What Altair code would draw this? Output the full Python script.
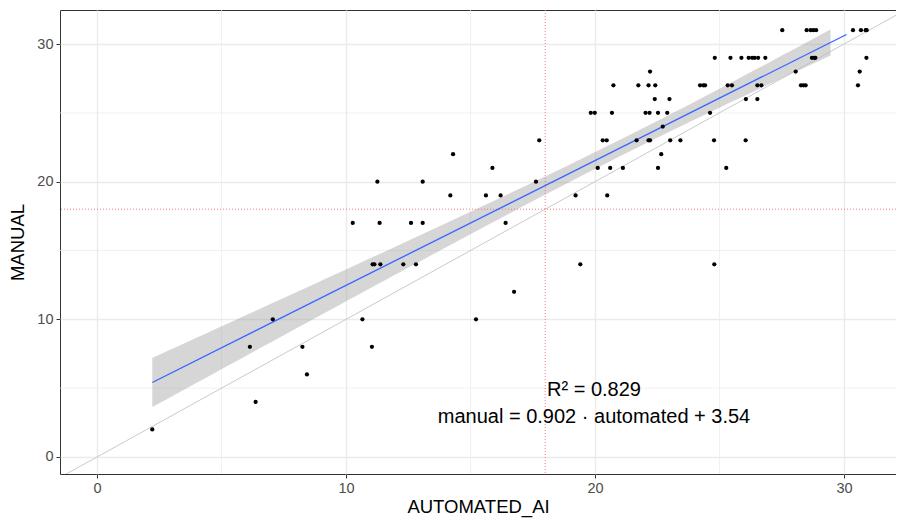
import altair as alt
import numpy as np
import pandas as pd

# ---- data ----
automated = [
    2.22, 6.37, 8.43,
    6.14, 8.25, 11.04,
    7.06, 10.66, 15.22,
    16.75,
    11.07, 11.14, 11.38, 12.30, 12.81, 19.41, 24.79,
    10.27, 11.35, 12.61, 13.08, 16.41,
    14.19, 15.62, 16.21, 19.22, 20.49,
    11.26, 13.08, 17.63,
    15.88, 20.11, 20.61, 21.12, 22.53, 25.27,
    14.30, 22.66,
    17.76, 20.31, 20.47, 21.67, 22.15, 22.21, 23.02, 23.43, 24.78, 26.05,
    22.72,
    19.83, 19.99, 20.68, 22.03, 22.19, 22.53, 22.90, 24.62,
    22.40, 22.99, 26.06, 26.52,
    20.74, 21.74, 22.15, 22.42, 24.22, 24.35, 24.42, 25.33, 25.50, 26.52, 26.68, 28.27, 28.37, 28.46, 30.56,
    22.21, 28.06, 30.63,
    24.81, 25.44, 25.88, 26.17, 26.31, 26.41, 26.55, 26.84, 28.71, 28.80, 28.85, 30.90,
    27.52, 28.50, 28.66, 28.77, 28.88, 30.36, 30.68, 30.87, 30.91,
]
manual = (
    [2, 4, 6]
    + [8] * 3
    + [10] * 3
    + [12]
    + [14] * 7
    + [17] * 5
    + [19] * 5
    + [20] * 3
    + [21] * 6
    + [22] * 2
    + [23] * 10
    + [24]
    + [25] * 8
    + [26] * 4
    + [27] * 15
    + [28] * 3
    + [29] * 12
    + [31] * 9
)

x_ticks = [0, 10, 20, 30]
y_ticks = [0, 10, 20, 30]
x_minor = [5, 15, 25]
y_minor = [5, 15, 25]
x_domain = [-1.486, 32.088]
y_domain = [-1.235, 32.47]
cut_automated = [18]
cut_manual = [18]
line_range = [2.22, 30.1]
band_range = [2.22, 29.46]
identity_range = [-3, 35]
label_r2 = "R² = 0.829"
label_eq = "manual = 0.902 · automated + 3.54"
label_pos_x = [19.96, 19.96]
label_pos_y = [4.43, 2.49]

# ---- tables ----
pts = pd.DataFrame({"automated": automated, "manual": manual})

xa = np.array(automated, dtype=float)
ya = np.array(manual, dtype=float)
n = len(xa)
slope, intercept = np.polyfit(xa, ya, 1)
resid = ya - (slope * xa + intercept)
s = np.sqrt(np.sum(resid ** 2) / (n - 2))
xm = xa.mean()
sxx = np.sum((xa - xm) ** 2)
tval = 1.986

bx = np.linspace(band_range[0], band_range[1], 80)
se = s * np.sqrt(1.0 / n + (bx - xm) ** 2 / sxx)
band = pd.DataFrame({"x": bx, "lo": slope * bx + intercept - tval * se,
                     "hi": slope * bx + intercept + tval * se})
lx = np.array(line_range)
fit = pd.DataFrame({"x": lx, "y": slope * lx + intercept})
ident = pd.DataFrame({"x": identity_range, "y": identity_range})
labels = pd.DataFrame({"x": label_pos_x, "y": label_pos_y, "t": [label_r2, label_eq]})

xs = alt.Scale(domain=x_domain, nice=False, zero=False)
ys = alt.Scale(domain=y_domain, nice=False, zero=False)

X = lambda f: alt.X(f, type="quantitative", scale=xs,
                    axis=alt.Axis(values=x_ticks, title="AUTOMATED_AI"))
Y = lambda f: alt.Y(f, type="quantitative", scale=ys,
                    axis=alt.Axis(values=y_ticks, title="MANUAL"))

minor_v = alt.Chart(pd.DataFrame({"v": x_minor})).mark_rule(
    color="#EBEBEB", strokeWidth=0.7).encode(x=X("v"))
minor_h = alt.Chart(pd.DataFrame({"v": y_minor})).mark_rule(
    color="#EBEBEB", strokeWidth=0.7).encode(y=Y("v"))

band_l = alt.Chart(band).mark_area(color="#999999", opacity=0.4).encode(
    x=X("x"), y=Y("lo"), y2="hi")
ident_l = alt.Chart(ident).mark_line(color="#BDBDBD", strokeWidth=0.8, clip=True).encode(
    x=X("x"), y=Y("y"))
vrule = alt.Chart(pd.DataFrame({"v": cut_automated})).mark_rule(
    color="#F26B6B", strokeWidth=0.9, strokeDash=[1, 2]).encode(x=X("v"))
hrule = alt.Chart(pd.DataFrame({"v": cut_manual})).mark_rule(
    color="#F26B6B", strokeWidth=0.9, strokeDash=[1, 2]).encode(y=Y("v"))
fit_l = alt.Chart(fit).mark_line(color="#3366FF", strokeWidth=1.3).encode(
    x=X("x"), y=Y("y"))
pts_l = alt.Chart(pts).mark_circle(color="black", size=18, opacity=1).encode(
    x=X("automated"), y=Y("manual"))
txt = alt.Chart(labels).mark_text(
    font="Liberation Sans", fontSize=20, align="center", baseline="alphabetic",
    color="black").encode(x=X("x"), y=Y("y"), text="t:N")

chart = alt.layer(
    minor_v, minor_h, band_l, ident_l, vrule, hrule, fit_l, pts_l, txt
).properties(
    width=836, height=464,
    autosize=alt.AutoSizeParams(type="none"),
    padding={"left": 52, "top": 2, "right": 0, "bottom": 44},
).configure_view(
    stroke="#333333", strokeWidth=1
).configure_axis(
    domain=False,
    grid=True, gridColor="#EBEBEB", gridWidth=1.4,
    ticks=True, tickColor="#333333", tickSize=4, tickWidth=1,
    labelFont="Liberation Sans", labelFontSize=14.5, labelColor="#4D4D4D",
    labelPadding=3,
    titleFont="Liberation Sans", titleFontSize=18.5, titleFontWeight="normal",
    titleColor="black",
).configure_axisX(titlePadding=3).configure_axisY(titlePadding=9)

chart.save("out.html", embed_options={"renderer": "svg", "actions": False})
